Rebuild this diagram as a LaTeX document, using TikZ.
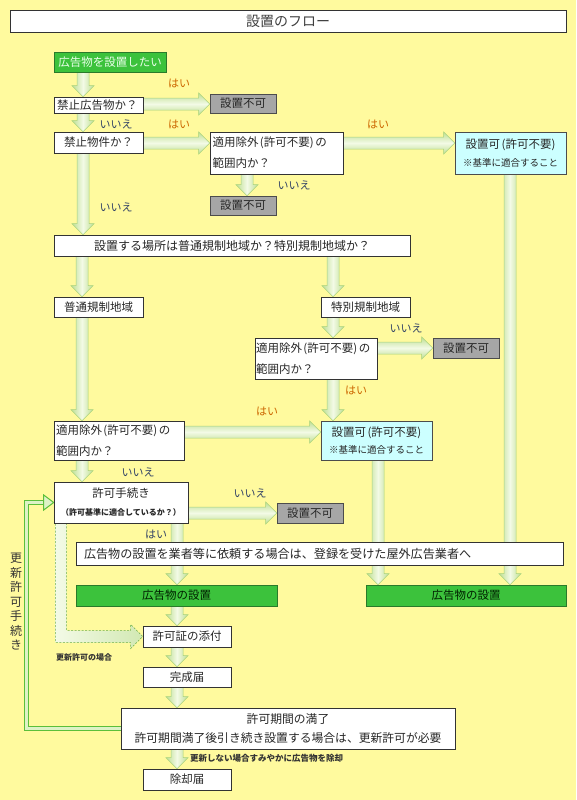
\documentclass[tikz,border=0pt]{standalone}
\usepackage{fontspec}
\setmainfont{Noto Sans CJK JP}
\usetikzlibrary{calc}
\pgfdeclarelayer{bg}\pgfdeclarelayer{arr}
\pgfsetlayers{bg,arr,main}
\definecolor{bgyellow}{HTML}{FFFA9E}
\definecolor{hai}{HTML}{CC6600}
\definecolor{iie}{HTML}{334466}
\definecolor{boxgreen}{HTML}{3CC23C}
\definecolor{boxgreenD}{HTML}{2A7A2A}
\definecolor{okcyan}{HTML}{CCFFFF}
\definecolor{nggray}{HTML}{A6A6A6}
\definecolor{arrG}{HTML}{BEDF92}
\definecolor{arrL}{HTML}{F3FAE6}
\definecolor{arrE}{HTML}{A8D27C}
\definecolor{loopG}{HTML}{5CBF3A}
\definecolor{loopL}{HTML}{DDF2C6}
\definecolor{dashG}{HTML}{6AAE4A}
\newcommand\fsz[2]{\fontsize{#1}{#2}\selectfont}
\newcommand\Lpar{\hspace{1.5pt}(}
\newcommand\Rpar{)\hspace{1.5pt}}
\tikzset{
  box/.style={draw=black!80, fill=white, line width=0.6pt, inner sep=0pt, font=\fsz{11.5}{21}, text=black!85},
  greenbox/.style={box, fill=boxgreen, draw=boxgreenD, text=black!70!green!40!black},
  ngbox/.style={box, fill=nggray, draw=black!70},
  okbox/.style={box, fill=okcyan, draw=black!70},
  hailbl/.style={font=\fsz{11}{11}, text=hai, inner sep=0pt},
  iielbl/.style={font=\fsz{11}{11}, text=iie, inner sep=0pt},
  varr/.style={draw=arrE, line width=0.5pt, left color=arrG, right color=arrG, middle color=arrL},
  harr/.style={draw=arrE, line width=0.5pt, top color=arrG, bottom color=arrG, middle color=arrL},
  dasharr/.style={draw=dashG, line width=0.5pt, dash pattern=on 2pt off 1.5pt, left color=arrL, right color=arrG!70},
  loopline/.style={draw=loopG, line width=1pt, double=loopL, double distance=3pt, line join=miter},
  loophead/.style={draw=loopG, line width=1pt, fill=loopL, line join=miter},
}
% vertical block arrow: #1 x, #2 from node (south), #3 to node (north)
\newcommand\varrow[3]{%
  \begin{pgfonlayer}{arr}
  \path[varr] let \p1=(#2.south), \p2=(#3.north) in
    ({#1pt-6pt},\y1) -- ({#1pt+6pt},\y1) -- ({#1pt+6pt},{\y2+11pt}) -- ({#1pt+11pt},{\y2+11pt})
    -- (#1pt,\y2) -- ({#1pt-11pt},{\y2+11pt}) -- ({#1pt-6pt},{\y2+11pt}) -- cycle;
  \end{pgfonlayer}}
% horizontal block arrow: #1 y (downward), #2 from node (east), #3 to node (west)
\newcommand\harrow[3]{%
  \begin{pgfonlayer}{arr}
  \path[harr] let \p1=(#2.east), \p2=(#3.west) in
    (\x1,{-#1pt+6pt}) -- ({\x2-11pt},{-#1pt+6pt}) -- ({\x2-11pt},{-#1pt+11pt}) -- (\x2,{-#1pt})
    -- ({\x2-11pt},{-#1pt-11pt}) -- ({\x2-11pt},{-#1pt-6pt}) -- (\x1,{-#1pt-6pt}) -- cycle;
  \end{pgfonlayer}}
\begin{document}
\begin{tikzpicture}[x=1pt,y=-1pt]
\useasboundingbox (0,0) rectangle (576,800);
\begin{pgfonlayer}{bg}
  \fill[bgyellow] (0,0) rectangle (576,800);
\end{pgfonlayer}

% title
\node[box, minimum width=556pt, minimum height=22pt, font=\fsz{14}{14}, text=black!75] (title) at (288,21) {設置のフロー};

% boxes
\node[greenbox, minimum width=112pt, minimum height=20pt, text=green!8!white] (start) at (110,62) {広告物を設置したい};
\node[box, minimum width=89pt, minimum height=16pt, text width=83pt, align=left] (q1) at (98.5,105) {禁止広告物か？};
\node[ngbox, minimum width=66pt, minimum height=19pt] (ng1) at (243,103.5) {設置不可};
\node[box, minimum width=89pt, minimum height=21pt] (q2) at (98.5,142.5) {禁止物件か？};
\node[box, minimum width=133pt, minimum height=42pt, text width=128pt, align=left] (q3) at (276.5,153) {適用除外\Lpar 許可不要\Rpar の\\範囲内か？};
\node[okbox, minimum width=111pt, minimum height=42pt, align=center] (ok1) at (510.5,153) {設置可\Lpar 許可不要\Rpar\\[-3pt]{\fsz{9.5}{12}※基準に適合すること}};
\node[ngbox, minimum width=66pt, minimum height=19pt] (ng2) at (243,205.5) {設置不可};
\node[box, minimum width=356pt, minimum height=21pt, font=\fsz{12}{14}] (q4) at (232,245.5) {設置する場所は普通規制地域か？特別規制地域か？};
\node[box, minimum width=89pt, minimum height=20pt] (fu) at (98.5,307) {普通規制地域};
\node[box, minimum width=89pt, minimum height=20pt] (toku) at (365.5,307) {特別規制地域};
\node[box, minimum width=122pt, minimum height=41pt, text width=120pt, align=left] (q5) at (316,358.5) {適用除外\Lpar 許可不要\Rpar の\\範囲内か？};
\node[ngbox, minimum width=66pt, minimum height=20pt] (ng3) at (466,348) {設置不可};
\node[box, minimum width=130pt, minimum height=39pt, text width=126pt, align=left] (q6) at (119,440.5) {適用除外\Lpar 許可不要\Rpar の\\範囲内か？};
\node[okbox, minimum width=111pt, minimum height=39pt, align=center] (ok2) at (376.5,440.5) {設置可\Lpar 許可不要\Rpar\\[-4pt]{\fsz{9.5}{12}※基準に適合すること}};
\node[box, minimum width=134pt, minimum height=41pt, align=center] (kyoka) at (121,502.5) {許可手続き\\[-3pt]{\fsz{8}{12}\bfseries （許可基準に適合しているか？）}};
\node[ngbox, minimum width=66pt, minimum height=20pt] (ng4) at (310,513) {設置不可};
\node[box, minimum width=487pt, minimum height=23pt, text width=471pt, align=left, font=\fsz{12.1}{14}] (gyo) at (319.5,553.5) {広告物の設置を業者等に依頼する場合は、登録を受けた屋外広告業者へ};
\node[greenbox, minimum width=201pt, minimum height=21pt] (setL) at (176.5,595.5) {広告物の設置};
\node[greenbox, minimum width=200pt, minimum height=21pt] (setR) at (466,595.5) {広告物の設置};
\node[box, minimum width=88pt, minimum height=21pt] (tenpu) at (187,636.5) {許可証の添付};
\node[box, minimum width=88pt, minimum height=20pt] (kansei) at (187,677) {完成届};
\node[box, minimum width=334pt, minimum height=41pt, align=center, font=\fsz{11.8}{19}] (kikan) at (288,728.5) {許可期間の満了\\許可期間満了後引き続き設置する場合は、更新許可が必要};
\node[box, minimum width=88pt, minimum height=21pt] (jokyaku) at (187,779.5) {除却届};

% labels
\node[hailbl] (l1) at (179,83) {はい};
\node[iielbl] (l2) at (116,124) {いいえ};
\node[hailbl] (l3) at (179,124) {はい};
\node[hailbl] (l4) at (378,124) {はい};
\node[iielbl] (l5) at (294,185) {いいえ};
\node[iielbl] (l6) at (116,207) {いいえ};
\node[iielbl] (l7) at (406,328) {いいえ};
\node[hailbl] (l8) at (356,390) {はい};
\node[hailbl] (l9) at (267,411) {はい};
\node[iielbl] (l10) at (138,472) {いいえ};
\node[iielbl] (l11) at (250,493) {いいえ};
\node[iielbl] (l12) at (156,534) {はい};
\node[font=\fsz{8}{8}\bfseries, text=black!80, inner sep=0pt, anchor=west] (l13) at (56,657) {更新許可の場合};
\node[font=\fsz{8.5}{8.5}\bfseries, text=black!80, inner sep=0pt, anchor=west] (l14) at (190,758) {更新しない場合すみやかに広告物を除却};
\node[font=\fsz{12}{14.5}, text=black!80, align=center, inner sep=0pt] (vt) at (16,602) {更\\新\\許\\可\\手\\続\\き};

% arrows
\varrow{83}{start}{q1}
\harrow{104}{q1}{ng1}
\varrow{83}{q1}{q2}
\harrow{143}{q2}{q3}
\harrow{143}{q3}{ok1}
\varrow{247}{q3}{ng2}
\varrow{83}{q2}{q4}
\varrow{82}{q4}{fu}
\varrow{333}{q4}{toku}
\varrow{333}{toku}{q5}
\harrow{348}{q5}{ng3}
\varrow{333}{q5}{ok2}
\varrow{82}{fu}{q6}
\harrow{432}{q6}{ok2}
\varrow{82}{q6}{kyoka}
\harrow{513}{kyoka}{ng4}
\varrow{177}{kyoka}{setL}
\varrow{378}{ok2}{setR}
\varrow{510}{ok1}{setR}
\varrow{177}{setL}{tenpu}
\varrow{177}{tenpu}{kansei}
\varrow{177}{kansei}{kikan}
\varrow{177}{kikan}{jokyaku}

% dashed L arrow (renewal case)
\begin{pgfonlayer}{arr}
\path[dasharr] let \p1=(kyoka.south west), \p2=(tenpu.west) in
  ({\x1+2pt},\y1) -- ({\x1+13pt},\y1) -- ({\x1+13pt},{\y2+6pt}) -- ({\x2-12pt},{\y2+6pt})
  -- ({\x2-12pt},{\y2+12pt}) -- (\x2,\y2) -- ({\x2-12pt},{\y2-12pt}) -- ({\x2-12pt},{\y2-6pt})
  -- ({\x1+2pt},{\y2-6pt}) -- cycle;
\end{pgfonlayer}

% renewal loop
\coordinate (loopx) at (26,0);
\begin{pgfonlayer}{arr}
\draw[loopline] (kikan.west) -| (loopx |- kyoka.west) -- ($(kyoka.west)+(-10,0)$);
\path[loophead] let \p1=(kyoka.west) in
  (\x1,\y1) -- ({\x1-10pt},{\y1+7.5pt}) -- ({\x1-10pt},{\y1-7.5pt}) -- cycle;
\end{pgfonlayer}
\end{tikzpicture}
\end{document}
